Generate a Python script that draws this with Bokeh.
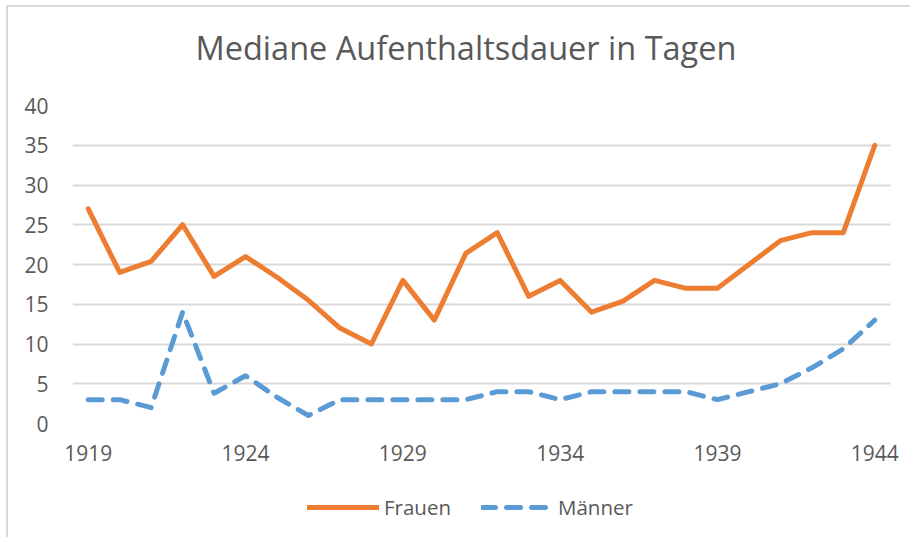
from bokeh.plotting import figure
from bokeh.layouts import column
from bokeh.models import Legend, LegendItem, FixedTicker, Range1d, Title
from bokeh.embed import file_html
from bokeh.resources import INLINE

years = list(range(1919, 1945))
frauen = [27, 19, 20.4, 25, 18.5, 21, 18.4, 15.5, 12, 10, 18, 13, 21.4,
          24, 16, 18, 14, 15.4, 18, 17, 17, 20, 23, 24, 24, 35]
maenner = [3, 3, 2, 14, 3.8, 6, 3.3, 1, 3, 3, 3, 3, 3,
           4, 4, 3, 4, 4, 4, 4, 3, 4, 5, 7, 9.4, 13]
x_ticks = [1919, 1924, 1929, 1934, 1939, 1944]
y_ticks = [0, 5, 10, 15, 20, 25, 30, 35, 40]
title_text = "Mediane Aufenthaltsdauer in Tagen"
series_names = ["Frauen", "Männer"]

FONT = "Open Sans"
TXT = "#595959"
ORANGE = "#ED7D31"
BLUE = "#5B9BD5"
DASH = "14 11"

p = figure(width=904, height=462, output_backend="svg", toolbar_location=None,
           x_range=Range1d(1918.5, 1944.5), y_range=Range1d(0, 40),
           min_border_left=64, min_border_right=22, min_border_top=98,
           min_border_bottom=46)
p.margin = (5, 0, 0, 6)
p.styles = {"border-left": "2px solid #d9d9d9", "border-top": "2px solid #d9d9d9"}
p.outline_line_color = None
p.background_fill_color = "white"
p.border_fill_color = "white"

# built-in title hidden; spacer + real title stacked in the "above" panel
p.title.visible = False
spacer = Title(text=" ", text_font_size="1px", standoff=33)
p.add_layout(spacer, "above")
main_title = Title(text=title_text, align="left", offset=123, standoff=0,
                   text_font=FONT, text_font_style="normal", text_font_size="32.5px",
                   text_color=TXT)
p.add_layout(main_title, "above")

p.xaxis.ticker = FixedTicker(ticks=x_ticks)
p.yaxis.ticker = FixedTicker(ticks=y_ticks)
for ax in (p.xaxis[0], p.yaxis[0]):
    ax.axis_line_color = None
    ax.major_tick_line_color = None
    ax.minor_tick_line_color = None
    ax.major_label_text_font = FONT
    ax.major_label_text_font_size = "21px"
    ax.major_label_text_color = TXT
p.xaxis.major_label_standoff = 15
p.yaxis.major_label_standoff = 18

p.xgrid.grid_line_color = None
p.ygrid.grid_line_color = "#d9d9d9"
p.ygrid.grid_line_width = 2

p.line(years, frauen, line_color=ORANGE, line_width=5, line_join="round", line_cap="round")
p.line(years, maenner, line_color=BLUE, line_width=5, line_dash=DASH,
       line_join="round", line_cap="round")

# legend strip below the chart (its lines lie outside its visible range)
lg = figure(width=904, height=70, output_backend="svg", toolbar_location=None,
            x_range=Range1d(0, 1), y_range=Range1d(0, 1),
            x_axis_location=None, y_axis_location=None,
            min_border_left=0, min_border_right=0, min_border_top=0, min_border_bottom=0)
lg.margin = (0, 0, 0, 6)
lg.styles = {"border-left": "2px solid #d9d9d9"}
lg.outline_line_color = None
lg.grid.visible = False
lr1 = lg.line(years, frauen, line_color=ORANGE, line_width=5, line_cap="round")
lr2 = lg.line(years, maenner, line_color=BLUE, line_width=5, line_dash=DASH, line_cap="round")
legend = Legend(items=[LegendItem(label=series_names[0], renderers=[lr1]),
                       LegendItem(label=series_names[1], renderers=[lr2])],
                orientation="horizontal", location=(235, 16),
                label_text_font=FONT, label_text_font_size="20.5px", label_text_color=TXT,
                glyph_width=72, glyph_height=20, spacing=30, label_standoff=5,
                border_line_color=None, background_fill_alpha=0)
lg.add_layout(legend, "center")

layout = column(p, lg, spacing=0)
open("out.html", "w").write(file_html(layout, INLINE))
